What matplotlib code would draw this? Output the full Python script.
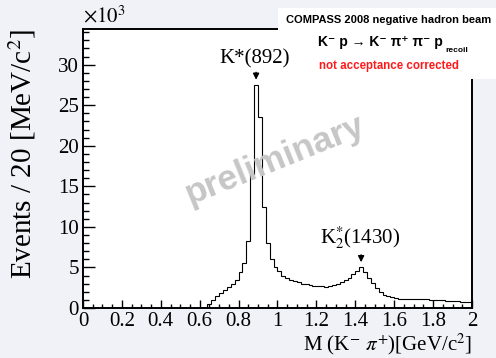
import numpy as np
import matplotlib
matplotlib.use("Agg")
import matplotlib.pyplot as plt
from matplotlib.ticker import MultipleLocator, FuncFormatter

plt.rcParams['font.family'] = ['Liberation Serif', 'DejaVu Serif']
plt.rcParams['mathtext.fontset'] = 'stix'

# ---- data: M(K- pi+) histogram, 20 MeV bins from 0 to 2 GeV ----
bin_edges = np.round(np.arange(0, 2.0001, 0.02), 2)
counts = [0] * 32 + [
    500, 1000, 1500, 1900, 2200, 2600, 3000, 3500, 4400, 5600,      # 0.64 - 0.82
    8300, 16500, 27500, 23600, 12400, 8000, 6000, 5000,             # 0.84 - 0.98
    4500, 4000, 3650, 3450, 3300, 3150, 3000, 2900, 2800, 2750,     # 1.00 - 1.18
    2700, 2650, 2600, 2650, 2800, 3000, 3200, 3450, 3750, 4150,     # 1.20 - 1.38
    4550, 5000, 4400, 3700, 3100, 2500, 2000, 1650, 1450, 1300,     # 1.40 - 1.58
    1200, 1150, 1120, 1100, 1100, 1080, 1070, 1060, 1050, 1040,     # 1.60 - 1.78
    1020, 980, 950, 920, 890, 860, 820, 780, 740, 700,              # 1.80 - 1.98
]
x_ticks = [0, 0.2, 0.4, 0.6, 0.8, 1, 1.2, 1.4, 1.6, 1.8, 2]
x_ticklabels = ['0', '0.2', '0.4', '0.6', '0.8', '1', '1.2', '1.4', '1.6', '1.8', '2']

peaks = [(0.89, 'K*(892)'), (1.43, r'K$_{2}^{*}$(1430)')]

SANS = ['Liberation Sans', 'DejaVu Sans']

fig = plt.figure(figsize=(4.96, 3.58), dpi=100, facecolor='#f1f2f8')
ax = fig.add_axes([0.1673, 0.1397, 0.7843, 0.7793])
ax.set_facecolor('white')

ax.stairs(counts, bin_edges, color='black', linewidth=0.8)

ax.set_xlim(0, 2)
ax.set_ylim(0, 34400)
ax.set_xticks(x_ticks)
ax.set_xticklabels(x_ticklabels)
ax.xaxis.set_minor_locator(MultipleLocator(0.05))
ax.yaxis.set_major_locator(MultipleLocator(5000))
ax.yaxis.set_minor_locator(MultipleLocator(1000))
ax.yaxis.set_major_formatter(FuncFormatter(lambda v, p: f'{v/1000:.0f}'))

ax.tick_params(axis='both', which='both', direction='in', labelsize=15, colors='black')
ax.tick_params(axis='x', which='major', length=6, width=1.0, pad=3)
ax.tick_params(axis='x', which='minor', length=3, width=1.0)
ax.tick_params(axis='y', which='major', length=8.5, width=1.0, pad=3)
ax.tick_params(axis='y', which='minor', length=4.3, width=1.0)
for side in ax.spines.values():
    side.set_linewidth(1.4)

ax.set_xlabel(r'M (K$^{-}$ $\pi^{+}$)[GeV/c$^{2}$]', fontsize=15, loc='right', labelpad=0)
ax.set_ylabel(r'Events / 20 [MeV/c$^{2}$]', fontsize=21, loc='top', labelpad=14)
ax.text(0.0, 1.005, r'$\times10^{3}$', transform=ax.transAxes, fontsize=15,
        ha='left', va='bottom')

# info box in the top right corner (drawn under the resonance labels)
box = plt.Rectangle((278 / 496, 1 - 79 / 358), 1, 71 / 358,
                    transform=fig.transFigure, facecolor='white',
                    edgecolor='none', zorder=3, clip_on=False)
ax.add_artist(box)
ax.text(389 / 496, 1 - 20 / 358, 'COMPASS 2008 negative hadron beam',
        transform=fig.transFigure, family=SANS, fontweight='bold', fontsize=8.0,
        ha='center', va='center', zorder=4)
ax.text(443 / 496, 1 - 42 / 358, 'K\u207b p \u2192 K\u207b \u03c0\u207a \u03c0\u207b p',
        transform=fig.transFigure, family=SANS, fontweight='bold', fontsize=10,
        ha='right', va='center', zorder=4)
ax.text(445 / 496, 1 - 51 / 358, 'recoil', transform=fig.transFigure,
        family=SANS, fontweight='bold', fontsize=6, ha='left', va='center',
        zorder=4)
ax.text(389 / 496, 1 - 66 / 358, 'not acceptance corrected',
        transform=fig.transFigure, family=SANS, fontweight='bold', fontsize=8.3,
        color='#ff1a1a', ha='center', va='center', zorder=4)

# resonance labels with arrows
for xp, name in peaks:
    i = int(round(xp / 0.02))
    top = max(counts[i - 1:i + 1])
    ax.annotate('', xy=(xp, top + 300), xytext=(xp, top + 1900),
                arrowprops=dict(arrowstyle='-|>', color='black', lw=1.0,
                                mutation_scale=9), zorder=5)
    ax.text(xp - 0.005, top + 2000, name, fontsize=15, ha='center',
            va='bottom', zorder=5)

# preliminary watermark
ax.text(0.985, 18200, 'preliminary', fontsize=25.5, fontweight='bold',
        family=SANS, color='#c6c6c6', rotation=22,
        ha='center', va='center', zorder=6)

fig.savefig('out.png', dpi=100, facecolor=fig.get_facecolor())
